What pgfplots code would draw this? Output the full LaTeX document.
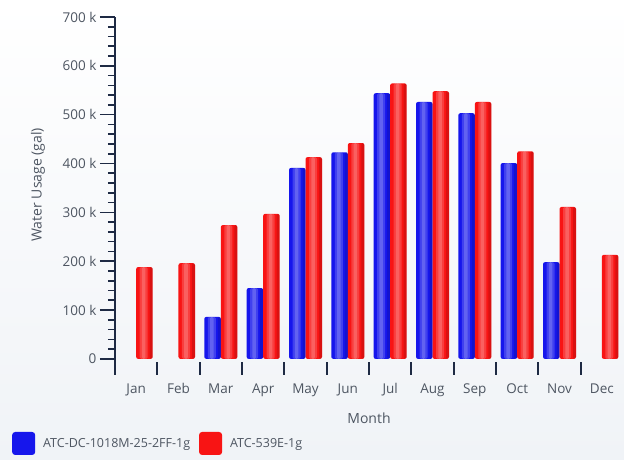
\documentclass[border=0pt]{standalone}
\usepackage{pgfplots}
\usepackage{pgfplotstable}
\pgfplotsset{compat=1.18}
\usepackage{fontspec}
\setmainfont{Open Sans}
\definecolor{axisc}{HTML}{1E2A44}
\definecolor{txt}{HTML}{4E5662}
\definecolor{bblue}{HTML}{1616EC}
\definecolor{bred}{HTML}{F81414}
\definecolor{bgtop}{HTML}{FFFFFF}
\definecolor{bgbot}{HTML}{F0F3F7}

% monthly water usage (gal), month index 0 = Jan
\pgfplotstableread{
m  v
2  86000
3  145000
4  391000
5  423000
6  544000
7  526000
8  503000
9  401000
10 198000
}\dcdata
\pgfplotstableread{
m  v
0  188000
1  196000
2  274000
3  297000
4  413000
5  442000
6  564000
7  548000
8  526000
9  425000
10 311000
11 213000
}\atcdata

\begin{document}
\begin{tikzpicture}
\path[use as bounding box, top color=bgtop, bottom color=bgbot] (0,0) rectangle (624pt,460pt);
\begin{axis}[
    at={(115pt,85pt)}, anchor=south west,
    scale only axis, width=508pt, height=358pt,
    xmin=-0.5, xmax=11.5,
    ymin=-33000, ymax=700000,
    axis y line*=left, axis x line*=bottom,
    x axis line style={draw=none},
    y axis line style={draw=axisc, line width=2.6pt},
    ybar=0pt,
    xtick={0,...,11},
    xticklabels={Jan,Feb,Mar,Apr,May,Jun,Jul,Aug,Sep,Oct,Nov,Dec},
    xtick style={draw=none},
    xticklabel style={yshift=10pt},
    extra x ticks={0.5,1.5,...,10.5},
    extra x tick labels={},
    extra x tick style={major tick length=13pt, tick align=inside,
        xtick style={draw=axisc, line width=1.8pt}},
    ytick={0,100000,...,700000},
    yticklabels={0,100 k,200 k,300 k,400 k,500 k,600 k,700 k},
    minor y tick num=4,
    tick align=outside,
    major tick length=15pt, minor tick length=7pt,
    ytick style={draw=axisc, line width=1.6pt},
    ticklabel style={font=\fontsize{13.5}{15}\selectfont, text=txt},
    scaled y ticks=false,
    xlabel={Month},
    ylabel={Water Usage (gal)},
    label style={font=\fontsize{14}{16}\selectfont, text=txt},
    xlabel style={at={(axis description cs:0.5,-0.12)}, anchor=center},
    ylabel style={at={(axis description cs:-0.1516,0.531)}, anchor=center},
    legend image code/.code={\path[#1, rounded corners=3pt] (0pt,-11.5pt) rectangle (23pt,11.5pt);},
    legend style={at={(axis description cs:-0.2028,-0.1913)}, anchor=west,
        draw=none, fill=none, inner sep=0pt, legend columns=2,
        font=\fontsize{12.5}{14}\selectfont, text=txt,
        /tikz/every even column/.append style={column sep=7pt},
        /tikz/every odd column/.append style={column sep=6pt}},
    bar base/.style={draw=none, bar width=16.5pt, rounded corners=2pt},
    glow/.style={draw=none, forget plot, fill=white, rounded corners=1.5pt},
    shade/.style={draw=none, forget plot, fill=black, fill opacity=0.12, rounded corners=1.5pt},
]
% blue series: base, soft highlight, dark right edge
\addplot[bar base, fill=bblue, bar shift=-8.25pt] table[x=m, y=v] {\dcdata};
\addlegendentry{ATC-DC-1018M-25-2FF-1g}
\addplot[glow, fill opacity=0.18, bar width=8pt, bar shift=-9pt] table[x=m, y=v] {\dcdata};
\addplot[glow, fill opacity=0.18, bar width=3.5pt, bar shift=-9pt] table[x=m, y=v] {\dcdata};
\addplot[shade, bar width=3pt, bar shift=-1.5pt] table[x=m, y=v] {\dcdata};
% red series
\addplot[bar base, fill=bred, bar shift=8.25pt] table[x=m, y=v] {\atcdata};
\addlegendentry{ATC-539E-1g}
\addplot[glow, fill opacity=0.18, bar width=8pt, bar shift=7.5pt] table[x=m, y=v] {\atcdata};
\addplot[glow, fill opacity=0.18, bar width=3.5pt, bar shift=7.5pt] table[x=m, y=v] {\atcdata};
\addplot[shade, bar width=3pt, bar shift=15pt] table[x=m, y=v] {\atcdata};
\end{axis}
\end{tikzpicture}
\end{document}
